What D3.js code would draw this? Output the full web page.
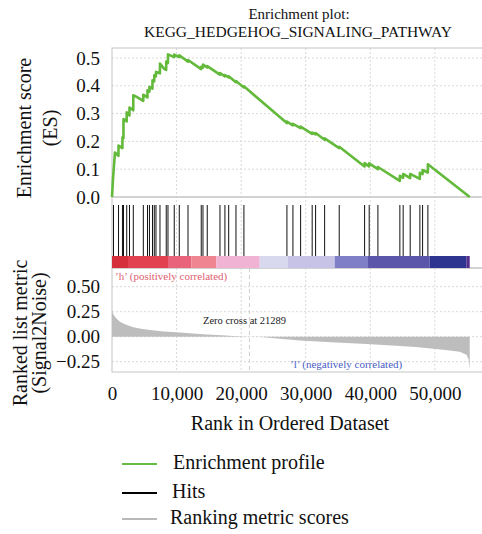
<!DOCTYPE html>
<html>
<head>
<meta charset="utf-8">
<script src="https://cdn.jsdelivr.net/npm/d3@7"></script>
<style>
  body { margin: 0; background: #fff; }
  svg { display: block; }
  svg text { font-family: "Liberation Serif", "Times New Roman", Tinos, "Noto Serif", "DejaVu Serif", serif; }
</style>
</head>
<body>
<div id="chart"></div>
<script>
'use strict'

// gene set name and zero crossing of the ranked list
const geneSet = 'KEGG_HEDGEHOG_SIGNALING_PATHWAY'
const zeroCross = 21289

// running enrichment score (rank, ES)
const esRanks = [0, 150, 300, 460, 1000, 1010, 1610, 1620, 1775, 1780, 2270, 2280, 2700, 2710, 3290, 3300, 3820, 4840, 4850,
  5490, 5500, 5790, 5800, 6260, 6270, 6540, 6550, 6800, 6810, 7420, 7430, 8050, 8390, 8400, 8660, 8670, 9630, 9640,
  10410, 10420, 11760, 11770, 13810, 13820, 14080, 14090, 14740, 14750, 16710, 16720, 17480, 17490, 18060, 18070,
  19190, 19200, 20420, 20430, 27080, 27090, 28010, 28020, 29200, 29210, 30990, 31000, 31520, 31530, 32920, 32930,
  35180, 35190, 39110, 39120, 39820, 39830, 41170, 41180, 44570, 44580, 45080, 45090, 46170, 46180, 47670, 47680,
  48090, 48100, 48910, 48920, 55400]
const esValues = [0, 0.064, 0.11, 0.16, 0.148, 0.185, 0.176, 0.215, 0.212, 0.28, 0.272, 0.305, 0.293, 0.322, 0.312, 0.366, 0.36, 0.346, 0.368,
  0.358, 0.384, 0.379, 0.396, 0.39, 0.42, 0.416, 0.438, 0.434, 0.45, 0.445, 0.48, 0.462, 0.457, 0.487, 0.482, 0.513, 0.503, 0.512,
  0.503, 0.51, 0.487, 0.493, 0.46, 0.468, 0.465, 0.476, 0.466, 0.471, 0.44, 0.446, 0.434, 0.439, 0.43, 0.434,
  0.413, 0.417, 0.394, 0.398, 0.266, 0.271, 0.258, 0.263, 0.248, 0.253, 0.227, 0.232, 0.225, 0.23, 0.206, 0.211,
  0.176, 0.181, 0.11, 0.122, 0.11, 0.121, 0.1, 0.108, 0.058, 0.076, 0.069, 0.083, 0.068, 0.083, 0.065, 0.087,
  0.082, 0.097, 0.088, 0.118, 0]

// ranks of the gene set members (hits)
const hitRanks = [230, 1010, 1620, 1780, 2280, 2710, 3300, 4850, 5500, 5800, 6270, 6550, 6810, 7430, 8400, 8670,
  9640, 10420, 11770, 13820, 14090, 14750, 16720, 17490, 18070, 19200, 20430, 27090, 28020, 29210, 31000, 31530,
  32930, 35190, 39120, 39830, 41180, 44580, 45090, 46180, 47680, 48100, 48920]

// ranked list metric (signal2noise)
const metricRanks = [0, 100, 250, 460, 800, 1240, 2000, 3300, 4500, 5880, 8000, 10000, 12500, 14660, 17000, 18780,
  20500, 21289, 23000, 26000, 29100, 34000, 39430, 44000, 47000, 49740, 52000, 53870, 54900, 55250, 55350, 55400]
const metricValues = [0.27, 0.24, 0.22, 0.2, 0.175, 0.15, 0.125, 0.094, 0.08, 0.067, 0.053, 0.044, 0.033, 0.023, 0.014, 0.007,
  0.003, 0, -0.004, -0.02, -0.037, -0.055, -0.073, -0.09, -0.102, -0.12, -0.135, -0.15, -0.18, -0.23, -0.3, -0.33]

// colour bar under the hits: segment start ranks and colours
const barStarts = [0, 2478, 8673, 12281, 16153, 22874, 27257, 34485, 39642, 49200, 54870]
const barEnd = 55400
const barColors = ['#d62f3c', '#e2414f', '#e9637a', '#ee8591', '#f1b3d3', '#d8d8ef', '#c7c3e6', '#7e7fc6', '#5b56a9', '#2d3590', '#57308f']

// tick labels
const xTicks = [0, 10000, 20000, 30000, 40000, 50000]
const esTicks = [0, 0.1, 0.2, 0.3, 0.4, 0.5]
const metricTicks = [-0.25, 0, 0.25, 0.5]

const legendLabels = ['Enrichment profile', 'Hits', 'Ranking metric scores']
const legendColors = ['#66bb44', '#000', '#b9b9b9']

const width = 482
const height = 534

const svg = d3.select('#chart')
  .append('svg')
    .attr('width', width)
    .attr('height', height)

// panel geometry
const left = 112
const right = 482
const esTop = 48
const esBottom = 197
const barTop = 256
const hitsBottom = 268
const rankBottom = 372

const x = d3.scaleLinear().domain([0, 57300]).range([left, right])
const yES = d3.scaleLinear().domain([0, 0.5]).range([esBottom, 58])
const yRank = d3.scaleLinear().domain([0, 0.5]).range([336.7, 286.7])

const gridColor = '#d9d9d9'
const frameColor = '#c4c4c4'

// title
svg.append('text')
  .attr('x', 299).attr('y', 19)
  .attr('text-anchor', 'middle')
  .attr('font-size', 15)
  .attr('fill', '#111')
  .text('Enrichment plot:')
svg.append('text')
  .attr('x', 298).attr('y', 37)
  .attr('text-anchor', 'middle')
  .attr('font-size', 15.5)
  .attr('fill', '#111')
  .text(geneSet)

// vertical grid over all panels
svg.append('g')
  .selectAll('line')
  .data(xTicks.slice(1))
  .join('line')
    .attr('x1', d => x(d)).attr('x2', d => x(d))
    .attr('y1', esTop).attr('y2', rankBottom)
    .attr('stroke', gridColor)
    .attr('stroke-dasharray', '2,2')

// horizontal grid, ES panel
svg.append('g')
  .selectAll('line')
  .data(esTicks.slice(1))
  .join('line')
    .attr('x1', left).attr('x2', right)
    .attr('y1', d => yES(d)).attr('y2', d => yES(d))
    .attr('stroke', gridColor)
    .attr('stroke-dasharray', '2,2')

// horizontal grid, ranked panel
svg.append('g')
  .selectAll('line')
  .data(metricTicks)
  .join('line')
    .attr('x1', left).attr('x2', right)
    .attr('y1', d => yRank(d)).attr('y2', d => yRank(d))
    .attr('stroke', gridColor)
    .attr('stroke-dasharray', '2,2')

// panel frames
const frames = [[esTop, esBottom], [esBottom, hitsBottom], [hitsBottom, rankBottom]]
svg.append('g')
  .selectAll('rect')
  .data(frames)
  .join('rect')
    .attr('x', left).attr('y', d => d[0])
    .attr('width', right - left + 10).attr('height', d => d[1] - d[0])
    .attr('fill', 'none')
    .attr('stroke', frameColor)

// ES axis
svg.append('g')
  .attr('transform', `translate(${left},0)`)
  .call(d3.axisLeft(yES).tickValues(esTicks).tickFormat(d3.format('.1f')).tickSize(0).tickPadding(12))
  .call(g => g.select('.domain').remove())
  .call(g => g.attr('font-family', null))
  .selectAll('text')
    .attr('font-size', 19)
    .attr('fill', '#111')

// ES curve
const esData = esRanks.map((r, i) => ({ rank: r, es: esValues[i] }))
svg.append('path')
  .datum(esData)
  .attr('fill', 'none')
  .attr('stroke', '#62b93a')
  .attr('stroke-width', 2.6)
  .attr('stroke-linejoin', 'round')
  .attr('d', d3.line()
    .x(d => x(d.rank))
    .y(d => yES(d.es))
  )

// hits
svg.append('g')
  .selectAll('line')
  .data(hitRanks)
  .join('line')
    .attr('x1', d => x(d)).attr('x2', d => x(d))
    .attr('y1', 205).attr('y2', barTop)
    .attr('stroke', '#111')
    .attr('stroke-width', 1)

// colour bar
svg.append('g')
  .selectAll('rect')
  .data(barStarts)
  .join('rect')
    .attr('x', d => x(d))
    .attr('y', barTop)
    .attr('width', (d, i) => x(i < barStarts.length - 1 ? barStarts[i + 1] : barEnd) - x(d))
    .attr('height', hitsBottom - barTop)
    .attr('fill', (d, i) => barColors[i])

// ranked list metric
const metricData = metricRanks.map((r, i) => ({ rank: r, v: metricValues[i] }))
svg.append('path')
  .datum(metricData)
  .attr('fill', '#bdbdbd')
  .attr('d', d3.area()
    .x(d => x(d.rank))
    .y0(yRank(0))
    .y1(d => yRank(d.v))
  )

// zero cross line
svg.append('line')
  .attr('x1', x(zeroCross)).attr('x2', x(zeroCross))
  .attr('y1', hitsBottom).attr('y2', rankBottom)
  .attr('stroke', '#cfcfcf')
  .attr('stroke-dasharray', '4,3')

svg.append('text')
  .attr('x', 203).attr('y', 324)
  .attr('font-size', 10.5)
  .attr('fill', '#222')
  .text(`Zero cross at ${zeroCross}`)

svg.append('text')
  .attr('x', 115).attr('y', 280)
  .attr('font-size', 11)
  .attr('fill', '#e06070')
  .text('\u2019h\u2019 (positively correlated)')

svg.append('text')
  .attr('x', 290).attr('y', 368)
  .attr('font-size', 11)
  .attr('fill', '#4a5cc4')
  .text('\u2019l\u2019 (negatively correlated)')

// ranked axis
svg.append('g')
  .attr('transform', `translate(${left},0)`)
  .call(d3.axisLeft(yRank).tickValues(metricTicks).tickFormat(d3.format('.2f')).tickSize(0).tickPadding(12))
  .call(g => g.select('.domain').remove())
  .call(g => g.attr('font-family', null))
  .selectAll('text')
    .attr('font-size', 19)
    .attr('fill', '#111')

// x axis
svg.append('g')
  .attr('transform', `translate(0,${rankBottom})`)
  .call(d3.axisBottom(x).tickValues(xTicks).tickFormat(d3.format(',')).tickSize(0).tickPadding(15))
  .call(g => g.select('.domain').remove())
  .call(g => g.attr('font-family', null))
  .selectAll('text')
    .attr('font-size', 19)
    .attr('fill', '#111')

svg.append('text')
  .attr('x', 290).attr('y', 430)
  .attr('text-anchor', 'middle')
  .attr('font-size', 20)
  .attr('fill', '#111')
  .text('Rank in Ordered Dataset')

// y labels
const yLabels = [
  { text: 'Enrichment score', x: 31, cy: 128 },
  { text: '(ES)', x: 57, cy: 128 },
  { text: 'Ranked list metric', x: 27, cy: 333 },
  { text: '(Signal2Noise)', x: 46, cy: 333 }
]
svg.append('g')
  .selectAll('text')
  .data(yLabels)
  .join('text')
    .attr('transform', d => `translate(${d.x},${d.cy}) rotate(-90)`)
    .attr('text-anchor', 'middle')
    .attr('font-size', 20)
    .attr('fill', '#111')
    .text(d => d.text)

// legend
const legend = svg.append('g')
  .selectAll('g')
  .data(legendLabels)
  .join('g')
    .attr('transform', (d, i) => `translate(0,${[464, 493, 519][i]})`)

legend.append('line')
  .attr('x1', 122).attr('x2', 157)
  .attr('stroke', (d, i) => legendColors[i])
  .attr('stroke-width', 2)

legend.append('text')
  .attr('x', (d, i) => [173, 172, 170][i])
  .attr('y', 5)
  .attr('font-size', 20)
  .attr('fill', '#111')
  .text(d => d)
</script>
</body>
</html>
